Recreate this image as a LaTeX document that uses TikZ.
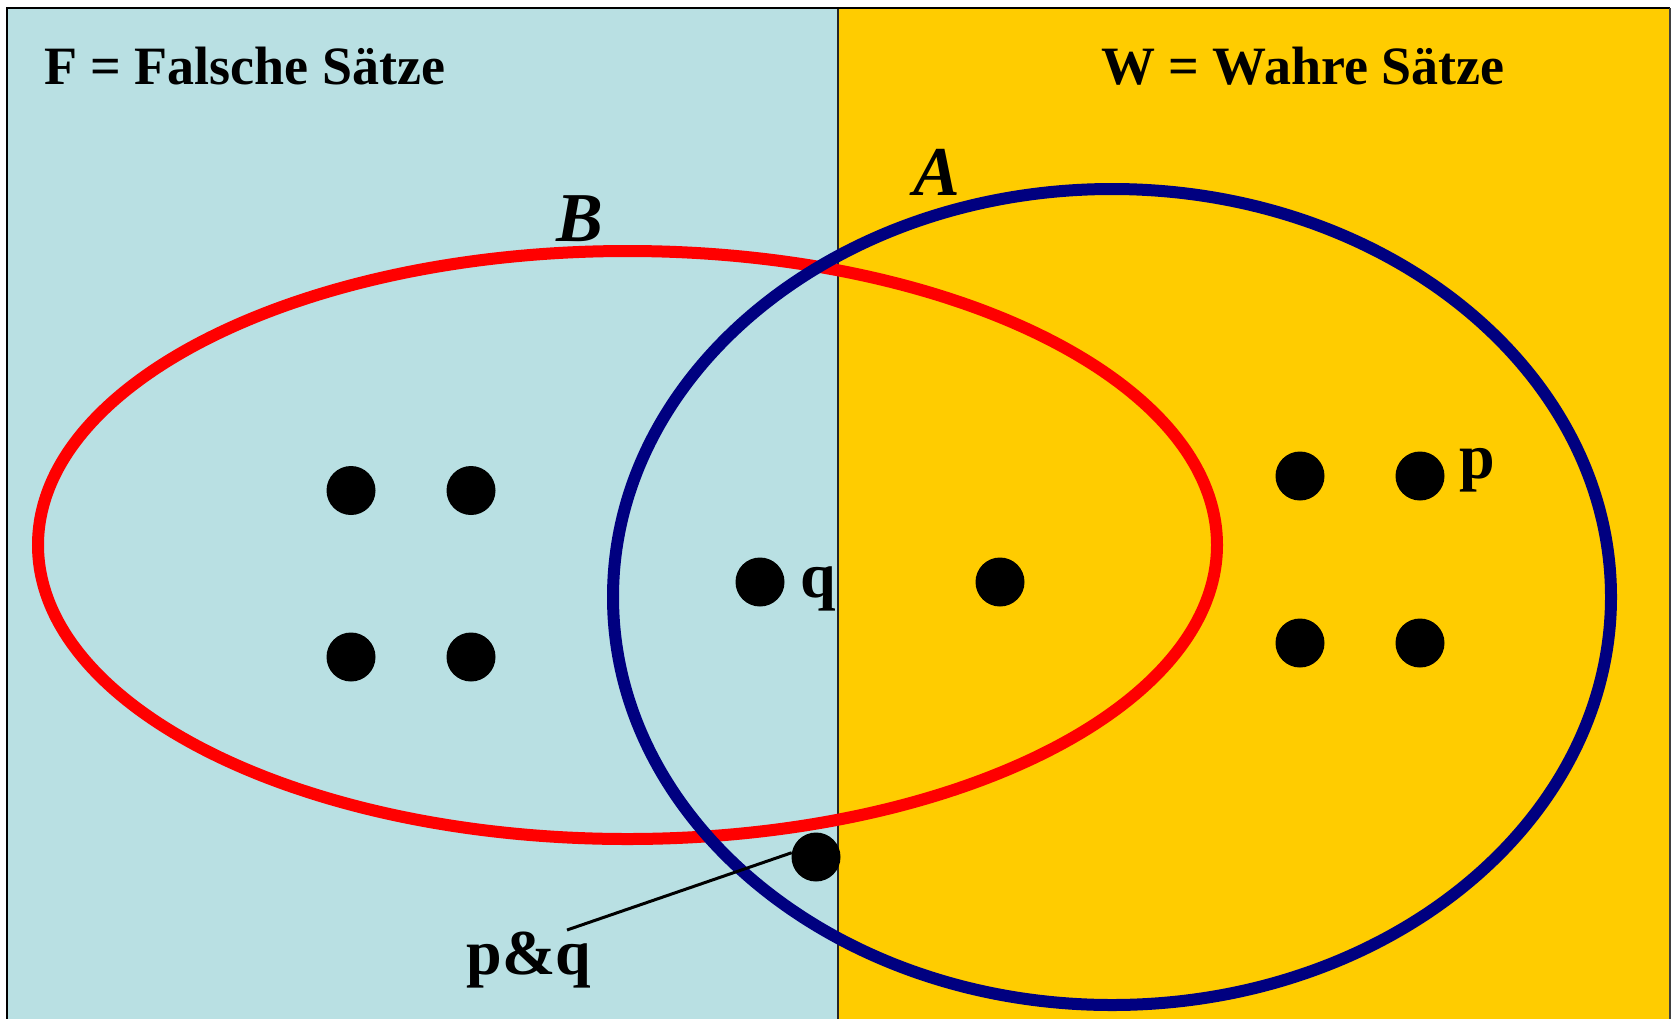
\documentclass[tikz,border=0pt]{standalone}
\usepackage{fontspec}
\setmainfont{Liberation Serif}
\definecolor{fblue}{HTML}{B9E0E3}
\definecolor{wyellow}{HTML}{FFCC00}
\definecolor{navyA}{HTML}{000080}
\begin{document}
\begin{tikzpicture}[x=1pt,y=-1pt,
  dot/.style={circle,fill=black,inner sep=0pt,minimum size=49pt},
  title/.style={font=\bfseries\fontsize{54}{60}\selectfont, inner sep=0pt, anchor=base west},
  lbl/.style={font=\bfseries\fontsize{64}{70}\selectfont, inner sep=0pt, anchor=base},
  setlbl/.style={font=\bfseries\itshape\fontsize{70}{80}\selectfont, inner sep=0pt, anchor=base},
  setB/.style={draw=red, line width=12pt},
  setA/.style={draw=navyA, line width=12pt}]
\useasboundingbox (0,0) rectangle (1672,1018);
\clip (0,0) rectangle (1672,1018);
% backgrounds
\fill[fblue] (7,8) rectangle (838,1030);
\fill[wyellow] (838,8) rectangle (1670,1030);
\draw[line width=1.5pt, black!85] (838,8) -- (838,1030);
\draw[line width=2.5pt] (7,1030) -- (7,8) -- (1670,8);
\draw[line width=2.5pt, black!75] (1670,8) -- (1670,1030);
% titles
\node[title] (Ftitle) at (44,84) {F = Falsche Sätze};
\node[title] (Wtitle) at (1101,84) {W = Wahre Sätze};
% sets
\draw[setB] (627.5,545) ellipse [x radius=589.5, y radius=294];
\draw[setA] (1112,597) ellipse [x radius=499, y radius=408];
\node[setlbl] (Blbl) at (580,241) {B};
\node[setlbl] (Albl) at (937,195) {A};
% dots
\node[dot] (d1) at (351,490.5) {};
\node[dot] (d2) at (471,490.5) {};
\node[dot] (d3) at (351,657) {};
\node[dot] (d4) at (471,657) {};
\node[dot] (dq) at (760,582) {};
\node[dot] (d6) at (1000,582) {};
\node[dot] (d7) at (1300,476) {};
\node[dot] (dp) at (1420,476) {};
\node[dot] (d9) at (1300,643) {};
\node[dot] (d10) at (1420,643) {};
\node[dot] (dpq) at (816,857) {};
% labels
\node[lbl] (qlbl) at (818,597) {q};
\node[lbl] (plbl) at (1477,478) {p};
\node[lbl] (pqlbl) at (529,974) {p\&q};
\coordinate (pqline) at (567,930);
\draw[line width=3pt] (pqline) -- (dpq.170);
\end{tikzpicture}
\end{document}
